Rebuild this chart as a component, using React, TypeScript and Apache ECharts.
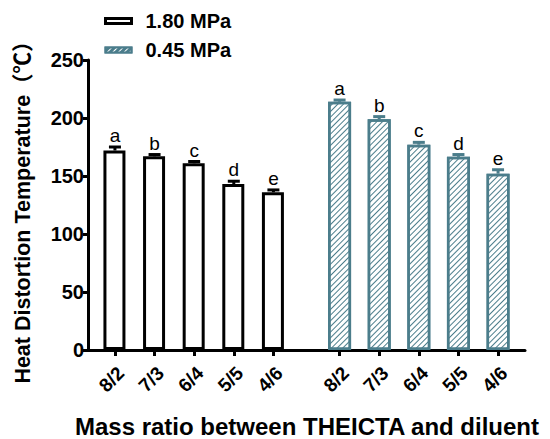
import React, { useEffect, useRef } from "react";
import * as echarts from "echarts";

const categories = ["8/2", "7/3", "6/4", "5/5", "4/6"];
const positions180 = [0, 1, 2, 3, 4];
const positions045 = [5.67, 6.67, 7.67, 8.67, 9.67];
const hdt180 = [172, 167, 161, 143, 136];
const err180 = [3, 1.5, 1.5, 2.5, 2];
const hdt045 = [214, 199, 177, 166.5, 152];
const err045 = [1.5, 2.2, 2, 2, 3.4];
const letters = ["a", "b", "c", "d", "e"];
const yTicks = [0, 50, 100, 150, 200, 250];

const FONT = "'Liberation Sans', Arial, 'Noto Sans CJK SC', sans-serif";
const TEAL = "#4b7d8b";

export default function App() {
  const ref = useRef<HTMLDivElement>(null);
  useEffect(() => {
    if (!ref.current) return;
    const chart = echarts.init(ref.current, null, { renderer: "svg" });
    const allPos = [...positions180, ...positions045];
    const decal = (color: string) => ({
      symbol: "rect",
      symbolSize: 1,
      color,
      dashArrayX: [1, 0],
      dashArrayY: [1, 2.4],
      rotation: -Math.PI / 4,
    });
    const errSeries = (pos: number[], vals: number[], errs: number[], color: string) => ({
      type: "custom",
      data: pos.map((p, i) => [p, vals[i], errs[i]]),
      encode: { x: 0, y: 1 },
      z: 5,
      silent: true,
      renderItem: (params: any, api: any) => {
        const x = api.value(0);
        const y = api.value(1);
        const e = api.value(2);
        const p0 = api.coord([x, y]);
        const p1 = api.coord([x, y + e]);
        const pb = api.coord([x, 0]);
        return {
          type: "group",
          children: [
            {
              type: "line",
              shape: { x1: p0[0], y1: p0[1], x2: p1[0], y2: p1[1] },
              style: { stroke: color, lineWidth: 3 },
            },
            {
              type: "line",
              shape: { x1: p1[0] - 6, y1: p1[1], x2: p1[0] + 6, y2: p1[1] },
              style: { stroke: color, lineWidth: 3 },
            },
            {
              type: "text",
              x: p1[0],
              y: p1[1] - 2,
              style: {
                text: letters[params.dataIndex],
                fontFamily: FONT,
                fontSize: 19,
                fill: "#000",
                align: "center",
                verticalAlign: "bottom",
              },
            },
            {
              type: "text",
              x: pb[0] + 6,
              y: pb[1] + 20,
              rotation: Math.PI / 4,
              style: {
                text: categories[params.dataIndex],
                fontFamily: FONT,
                fontWeight: "bold",
                fontSize: 19,
                fill: "#000",
                align: "right",
                verticalAlign: "middle",
              },
            },
          ],
        };
      },
    });
    chart.setOption({
      animation: false,
      grid: { left: 88, right: 25, top: 60, bottom: 89, containLabel: false },
      legend: {
        orient: "vertical",
        left: 99,
        top: 4,
        itemWidth: 26,
        itemHeight: 5,
        itemGap: 5,
        selectedMode: false,
        textStyle: {
          fontFamily: FONT,
          fontWeight: "bold",
          fontSize: 20,
          color: "#000",
          lineHeight: 24,
          padding: [0, 0, 0, 9],
        },
        data: [
          {
            name: "1.80 MPa",
            icon: "rect",
            itemStyle: { color: "#fff", borderColor: "#000", borderWidth: 3, decal: "none" },
          },
          {
            name: "0.45 MPa",
            icon: "rect",
            itemStyle: {
              color: TEAL,
              borderColor: TEAL,
              borderWidth: 2,
              decal: decal("#ffffff"),
            },
          },
        ],
      },
      xAxis: {
        type: "value",
        min: -0.68,
        max: 10.35,
        splitLine: { show: false },
        axisLine: { show: true, onZero: false, lineStyle: { color: "#000", width: 3 } },
        axisTick: {
          show: true,
          customValues: allPos,
          length: 6,
          lineStyle: { color: "#000", width: 3 },
        },
        axisLabel: { show: false },
      },
      yAxis: {
        type: "value",
        min: yTicks[0],
        max: yTicks[yTicks.length - 1],
        interval: 50,
        splitLine: { show: false },
        axisLine: { show: true, onZero: false, lineStyle: { color: "#000", width: 3 } },
        axisTick: { show: true, length: 5, lineStyle: { color: "#000", width: 3 } },
        axisLabel: {
          margin: 4,
          fontFamily: FONT,
          fontWeight: "bold",
          fontSize: 20,
          color: "#000",
        },
      },
      series: [
        {
          name: "1.80 MPa",
          type: "bar",
          barWidth: 22,
          barGap: "-100%",
          data: positions180.map((p, i) => [p, hdt180[i]]),
          itemStyle: { color: "#fff", borderColor: "#000", borderWidth: 3 },
          z: 2,
        },
        {
          name: "0.45 MPa",
          type: "bar",
          barWidth: 23,
          barGap: "-100%",
          data: positions045.map((p, i) => [p, hdt045[i]]),
          itemStyle: {
            color: "#fff",
            borderColor: TEAL,
            borderWidth: 2.5,
            decal: decal(TEAL),
          },
          z: 2,
        },
        errSeries(positions180, hdt180, err180, "#000"),
        errSeries(positions045, hdt045, err045, TEAL),
      ],
      graphic: [
        {
          type: "text",
          x: 23,
          y: 207,
          rotation: Math.PI / 2,
          style: {
            text: "Heat Distortion Temperature（℃）",
            fontFamily: FONT,
            fontWeight: "bold",
            fontSize: 21.5,
            fill: "#000",
            align: "center",
            verticalAlign: "middle",
          },
        },
        {
          type: "text",
          x: 307,
          y: 426,
          style: {
            text: "Mass ratio between THEICTA and diluent",
            fontFamily: FONT,
            fontWeight: "bold",
            fontSize: 24,
            fill: "#000",
            align: "center",
            verticalAlign: "middle",
          },
        },
      ],
    });
    return () => chart.dispose();
  }, []);
  return (
    <div
      ref={ref}
      style={{ position: "fixed", left: 0, top: 0, width: 550, height: 439, background: "#fff" }}
    />
  );
}
